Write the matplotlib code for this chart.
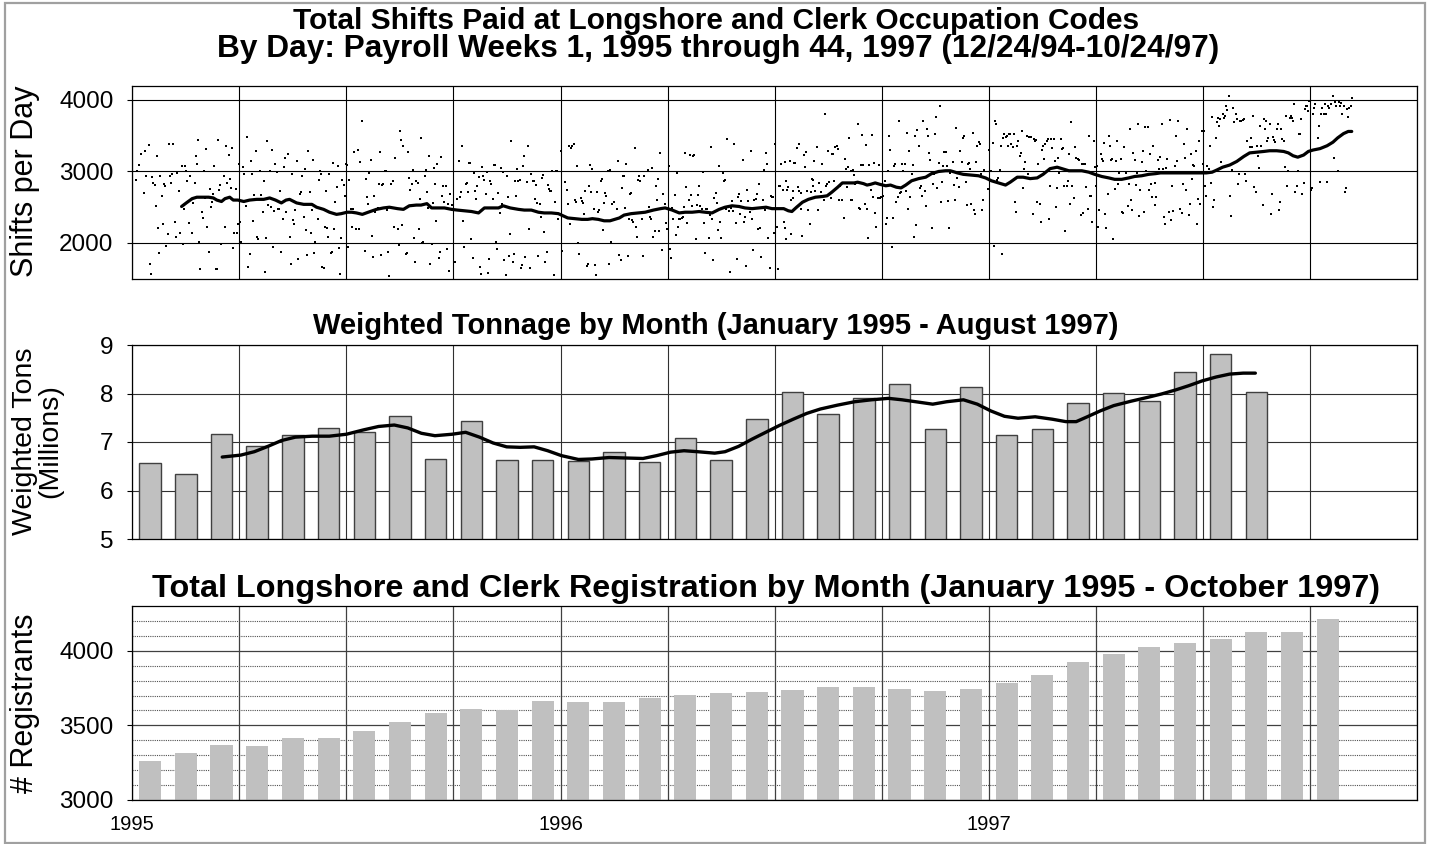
import numpy as np
import matplotlib
matplotlib.use("Agg")
import matplotlib.pyplot as plt
from matplotlib.patches import Rectangle

plt.rcParams['font.family'] = ['Liberation Sans', 'DejaVu Sans']

# ---- top panel: shifts paid per day, day 0 = 12/24/94 ----
shift_day = [
    # Q1 1995
    3, 4, 6, 7, 10, 11, 12, 14, 15, 16,
    17, 18, 19, 20, 21, 22, 23, 24, 25, 26,
    27, 28, 29, 30, 31, 32, 33, 34, 35, 36,
    37, 38, 40, 41, 42, 43, 44, 45, 46, 47,
    48, 49, 51, 52, 53, 54, 55, 56, 57, 58,
    59, 60, 61, 62, 63, 64, 65, 66, 67, 68,
    69, 70, 71, 72, 73, 74, 75, 76, 78, 79,
    80, 81, 82, 83, 84, 85, 86, 87, 88, 89,
    90, 91,
    # Q2 1995
    92, 93, 94, 95, 97, 98, 99, 100, 101, 102,
    103, 104, 105, 106, 107, 109, 110, 111, 112, 113,
    114, 115, 116, 117, 118, 119, 120, 121, 122, 123,
    124, 125, 126, 127, 128, 129, 130, 131, 133, 134,
    135, 136, 137, 138, 139, 140, 141, 143, 144, 145,
    146, 147, 148, 149, 150, 151, 152, 153, 154, 155,
    156, 158, 159, 160, 161, 162, 163, 164, 165, 166,
    167, 168, 169, 170, 171, 172, 173, 174, 175, 176,
    177, 178, 179, 180, 181, 182, 183,
    # Q3 1995
    184, 185, 186, 187, 188, 189, 191, 192, 193, 194,
    196, 198, 199, 200, 201, 202, 203, 204, 205, 206,
    207, 209, 210, 211, 212, 213, 214, 215, 216, 217,
    218, 219,
    220, 222, 223, 224, 226, 227, 228, 229, 230, 231,
    233, 234, 235, 236, 237, 238, 239, 240, 241, 242,
    243, 244, 245, 246, 247, 248, 249, 250, 251, 252,
    253, 254, 255, 256, 257, 258, 259, 260, 261, 262,
    263, 264, 265, 266, 267, 268, 269, 270, 271, 272,
    # Q4 1995
    275, 277, 278, 279, 280, 281, 282, 283, 284, 285,
    286, 287, 288, 289, 290, 291, 292, 293, 294, 295,
    296, 297, 298, 299, 300, 301, 302, 303, 304, 305,
    306, 307, 308, 309, 310, 311, 312, 313, 314, 315,
    316, 317, 318, 319, 320, 321, 322, 323, 324, 325,
    326, 327, 328, 329, 330, 331, 332, 333, 334, 335,
    336, 337, 338, 339, 340, 341, 342, 343, 344, 345,
    346, 347, 348, 349, 350, 351, 352, 353, 354, 355,
    356, 357, 358, 359, 360, 361, 362, 363,
    # Q1 1996
    365, 366, 369, 370, 371, 372, 373, 374, 375, 376,
    377, 378, 379, 380, 381, 382, 383, 384, 385, 386,
    387, 388, 389, 390, 391, 392, 393, 394, 395, 396,
    397, 398, 399, 400, 401, 402, 403, 404, 405, 406,
    407, 408, 409, 410, 413, 414, 415, 416, 417, 418,
    419, 420, 421, 422, 423, 424, 425, 426, 427, 428,
    429, 430, 431, 432, 433, 434, 435, 436,
    # Q2 1996
    439, 440, 441, 442, 443, 444, 445, 446, 447, 448,
    449, 450, 451, 452, 453, 454, 455, 456, 457, 458,
    459, 460, 461, 462, 463, 464, 465, 466, 467, 468,
    469, 470, 471, 472, 473, 474, 475, 476, 477, 478,
    479, 480, 481, 482, 483, 484, 485, 486, 487, 488,
    489, 490, 491, 492, 493, 494, 495, 496, 497, 498,
    499, 500, 501, 502, 503, 504, 505, 506, 507, 508,
    509, 510, 511, 512, 513, 514, 515, 516, 517, 518,
    519, 520, 521, 522, 523, 524, 525, 526, 527, 528,
    # Q3 1996
    529, 530, 531, 532, 533, 534, 535, 536, 537, 538,
    539, 540, 541, 542, 543, 544, 545, 546, 547, 548,
    549, 550, 551, 552, 553, 554, 555, 556, 556, 557,
    557, 558, 559, 560, 561, 561, 563, 563, 564, 565,
    566, 567, 568, 568, 570, 570, 571, 572, 573, 574,
    575,
    576, 577, 578, 579, 580, 580, 581, 582, 583, 584,
    585, 587, 588, 589, 590, 591, 592, 593, 594, 595,
    596, 597, 598, 599, 600, 601, 602, 603, 605, 606,
    607, 608, 609, 610, 611, 612, 612, 613, 614, 615,
    # Q4 1996
    616, 618, 619, 620, 621, 622, 623, 624, 625, 626,
    627, 628, 629, 630, 631, 632, 633, 634, 635, 636,
    637, 638, 640, 641, 642, 643, 644, 645, 646, 647,
    648, 649, 650, 651, 652, 653,
    654, 655, 656, 657, 658, 659, 660, 661, 662, 663,
    664, 665, 666, 667, 668, 669, 670, 671, 672, 673,
    674, 675, 676, 677, 678, 679, 680, 681, 682, 683,
    684, 685, 686, 687, 688, 689, 690, 691, 692, 693,
    694, 695, 696, 697, 699, 700, 701, 702, 703, 704,
    705, 707, 708, 709, 710, 711, 712, 713, 714, 715,
    716, 717, 718, 719, 720, 721, 722, 723, 724, 725,
    # Q1 1997
    726, 729, 730, 732, 733, 734, 735, 736, 737, 738,
    739, 740, 741, 742, 743, 744, 745, 746, 747, 748,
    749, 750, 751, 752, 753, 754, 755, 756, 757, 758,
    759, 760, 761, 762, 763, 764, 766, 767, 768, 769,
    770, 771, 772, 773, 774, 775, 776, 777, 778, 779,
    780, 781, 782, 783, 784, 785, 786, 787, 788, 789,
    790, 791, 792, 793, 794, 795, 796, 797, 798, 799,
    800, 801, 802, 803, 804, 806, 807, 808, 809, 810,
    811, 812, 813, 814, 815, 816, 817, 818, 819, 820,
    # Q2 1997
    821, 822, 823, 824, 825, 826, 827, 828, 829, 830,
    831, 832, 833, 834, 835, 836, 837, 838, 839, 840,
    841, 842, 843, 844, 845, 847, 848, 849, 850, 851,
    852, 853, 854, 855, 856, 857, 858, 859, 860, 861,
    862, 863, 864, 865, 866, 867, 868, 869, 870, 871,
    871, 872, 874, 875, 876, 877, 878, 879, 880, 881,
    882, 883, 884, 885, 886, 887, 888, 889, 890, 891,
    893, 894, 895, 896, 897, 898, 899, 900, 901, 902,
    903, 904, 905, 906, 907, 908, 909, 910, 911, 912,
    # Q3 1997
    913, 914, 915, 916, 917, 918, 919, 920, 921, 922,
    923, 924, 925, 926, 927, 928, 929, 930, 931, 932,
    933, 934, 935, 936, 937, 938, 939, 940, 941, 942,
    943, 944, 945, 946, 947, 948, 949, 950, 952, 953,
    954, 955, 956, 957, 958, 959, 960, 961, 962, 963,
    964, 965, 966, 967, 968, 969, 970, 971, 972, 973,
    974, 975, 976, 977, 978, 979, 980, 981, 982, 983,
    984, 985, 986, 987, 988, 989, 990, 991, 992, 993,
    994, 995, 996, 997, 998, 999, 1000, 1001, 1002, 1003,
    # Q4 1997
    1004, 1005, 1006, 1007, 1008, 1010, 1011, 1012, 1013, 1014,
    1015, 1016, 1017, 1018, 1019, 1020, 1021, 1023, 1024, 1025,
    1026, 1027, 1028, 1029, 1030, 1031, 1032, 1033, 1034, 1035,
    1036, 1037, 1038, 1039,
]
shift_count = [
    # Q1 1995
    2880, 3010, 3090, 3250, 2700, 3280, 2930, 3370, 1700, 1560,
    2920, 2840, 2810, 2520, 3210, 2210, 1860, 2930, 2650, 2270,
    2820, 2800, 1960, 2130, 3390, 2930, 2840, 2970, 3390, 2290,
    2080, 2980, 2730, 2140, 3070, 1990, 2470, 3080, 3010, 2860,
    2280, 2930, 2140, 2560, 2840, 3220, 3100, 3440, 2020, 1640,
    2430, 2350, 3000, 2630, 3310, 2230, 1870, 2760, 2500, 2570,
    2680, 3070, 1630, 1640, 3440, 2740, 2810, 1980, 2930, 2230,
    3350, 2840, 3230, 2900, 2770, 3330, 1930, 2140, 2760, 2140,
    2270, 3100,
    # Q2 1995
    2290, 2020, 3060, 2960, 2520, 3480, 1660, 1840, 3140, 2970,
    2310, 2670, 3290, 2080, 2050, 3000, 2670, 2440, 2870, 1600,
    2070, 3430, 2530, 3010, 2500, 3300, 1940, 2450, 3110, 2990,
    2480, 2470, 2730, 1880, 2340, 3060, 3190, 2440, 3250, 2090,
    1700, 2970, 2320, 2260, 2460, 3140, 1780, 2690, 2710, 2940,
    2370, 3040, 2180, 1830, 3280, 2710, 2140, 2460, 3160, 1860,
    2020, 2330, 2880, 3000, 2970, 1670, 1650, 2230, 2720, 2210,
    2080, 2960, 1860, 1880, 3120, 2190, 2580, 2780, 3080, 1930,
    1570, 2070, 2880, 2810, 2660, 3100, 3090,
    # Q3 1995
    1950, 2880, 2480, 2220, 2470, 3270, 2190, 3300, 2190, 3130,
    3710, 1890, 2900, 2640, 2550, 2980, 3160, 2100, 1800, 2660,
    2440, 2490, 2820, 3270, 1830, 2810, 2820, 3000, 3010, 2460,
    1880, 1540,
    2820, 2870, 2220, 3190, 2190, 1970, 3560, 3440, 2250, 3350,
    1850, 1860, 3270, 2910, 2740, 2820, 3020, 2070, 1740, 2870,
    2840, 2190, 2620, 3470, 2000, 2020, 2940, 3020, 2710, 2490,
    3210, 1710, 1980, 2560, 3050, 2820, 2310, 3110, 1790, 1880,
    3200, 2650, 2790, 2570, 2790, 1910, 2540, 1610, 2690, 2530,
    # Q4 1995
    1730, 2620, 3150, 2640, 2710, 3360, 2310, 1950, 2820, 2840,
    2710, 3120, 3120, 2060, 1790, 2980, 2730, 2620, 2800, 2920,
    1660, 1570, 3060, 2940, 2880, 2680, 2990, 1580, 1770, 2870,
    2820, 2620, 3090, 3090, 2020, 1910, 2700, 2420, 3050, 2540,
    2990, 1760, 1550, 2930, 2640, 1820, 2120, 3430, 1730, 1850,
    2860, 2650, 3040, 2870, 2880, 1650, 1690, 3070, 3220, 1810,
    2850, 3350, 2190, 1650, 2960, 2860, 2870, 2610, 2810, 2560,
    1820, 2550, 2370, 2910, 2950, 2150, 1740, 1880, 2810, 2760,
    2730, 2730, 3000, 1550, 2570, 3010, 3010, 2340,
    # Q1 1996
    3290, 1890, 2850, 2740, 2540, 3360, 2260, 3330, 3350, 3380,
    2600, 2570, 3080, 2000, 1840, 2630, 2590, 2560, 2410, 2730,
    1680, 1700, 2790, 3090, 2710, 3040, 2470, 1690, 1550, 2710,
    2440, 2460, 2870, 2890, 2180, 2560, 2700, 2660, 3010, 1700,
    3020, 2010, 2540, 2580, 2470, 3140, 1830, 1760, 2770, 2940,
    2940, 2490, 3110, 1820, 2330, 2680, 2700, 2320, 2290, 3330,
    2220, 2090, 2880, 2940, 2860, 2330, 1820, 2930,
    # Q2 1996
    3020, 2500, 2370, 2330, 3050, 2080, 2170, 2800, 2600, 2890,
    2170, 3260, 1900, 2680, 2490, 2540, 2280, 2190, 3070, 1910,
    1790, 2490, 2330, 2670, 2110, 2980, 2230, 2330, 2340, 2350,
    2370, 2510, 3260, 2780, 2280, 2600, 3230, 2670, 2520, 3220,
    3230, 2050, 2530, 2670, 2800, 2520, 2470, 2990, 2280, 1860,
    2470, 2470, 2070, 2390, 3340, 2330, 1760, 2630, 2700, 2560,
    2180, 3070, 2290, 2070, 2980, 2870, 2880, 2480, 3450, 2450,
    1600, 2490, 2590, 2450, 3390, 2280, 1780, 2640, 2690, 2400,
    2590, 3160, 2290, 2360, 1680, 2740, 2590, 2430, 3290, 2340,
    # Q3 1996
    1900, 2600, 2620, 2690, 2190, 2820, 2210, 1800, 2600, 3020,
    2460, 3260, 3110, 2070, 1650, 2660, 2640, 2640, 2140, 3390,
    2230, 1640, 2800, 2790, 3100, 2740, 2300, 3130, 2210, 2060,
    2870, 2740, 2780, 3140, 2600, 2120, 2730, 2630, 3120, 3120,
    3330, 2780, 3380, 2730, 2480, 2700, 2100, 3230, 3060, 3270,
    2720,
    2460, 2260, 2710, 2890, 2880, 2790, 3150, 2720, 3340, 2460,
    2840, 2710, 3110, 2600, 3800, 2790, 2830, 3290, 2850, 2630,
    3250, 3240, 2870, 3340, 3350, 3320, 2600, 2790, 2600, 2350,
    3180, 3040, 2780, 3060, 3470, 3000, 2600, 2600, 3020, 2950,
    # Q4 1996
    2820, 3670, 2490, 2480, 3090, 3510, 3090, 2540, 3370, 2470,
    2070, 3090, 2740, 3510, 2640, 3120, 2420, 2220, 2630, 3090,
    2630, 2640, 2650, 2860, 2260, 2350, 3000, 3490, 3300, 1940,
    2350, 3080, 3100, 2570, 2640, 3700,
    2700, 2710, 3100, 3010, 3100, 2730, 3540, 2480, 3290, 2640,
    2960, 3090, 2080, 3490, 2250, 3580, 3360, 2770, 2790, 2660,
    3710, 2730, 2520, 3590, 3490, 3260, 3160, 2210, 2820, 2970,
    3530, 3760, 2770, 3120, 3910, 2580, 2850, 3080, 3270, 3270,
    3080, 2590, 2210, 2980, 3130, 2810, 2600, 3610, 2910, 2780,
    3290, 3130, 3470, 3490, 2850, 2530, 3110, 3120, 3030, 2540,
    3540, 2460, 2400, 3130, 3350, 3410, 3390, 2970, 2460, 2600,
    # Q1 1997
    3020, 2760, 3300, 3000, 3400, 1960, 3700, 3670, 2880, 2910,
    3020, 3350, 1850, 3470, 3530, 3480, 3500, 3350, 3520, 3520,
    3390, 3340, 3520, 2570, 2440, 3350, 3420, 3210, 3260, 3560,
    2770, 3040, 3130, 3490, 2960, 3480, 3480, 2410, 3460, 3430,
    3440, 2570, 3100, 2550, 2300, 3300, 3360, 3180, 3390, 3430,
    3450, 2340, 2800, 3450, 3330, 3460, 3150, 2500, 2770, 3190,
    2980, 3450, 3320, 3330, 2790, 2170, 2800, 2860, 3240, 2540,
    3690, 2790, 2630, 3340, 3190, 3180, 3160, 2390, 3110, 2420,
    3110, 3110, 2780, 2480, 3490, 2650, 2650, 2290, 3420, 3060,
    # Q2 1997
    2800, 3070, 2220, 2460, 3250, 3180, 3140, 3400, 2410, 2210,
    2680, 3500, 3360, 3160, 3170, 2060, 2750, 3150, 3420, 2820,
    2980, 3170, 2430, 2420, 3340, 2980, 2520, 2820, 3600, 2600,
    2460, 3260, 3160, 2810, 2980, 3670, 2380, 2740, 3130, 3290,
    2430, 3620, 3000, 3620, 2740, 3250, 2830, 2640, 3360, 2840,
    2530, 2640, 3160, 3040, 3200, 3660, 3040, 2360, 2270, 3050,
    3180, 2430, 3720, 2320, 2800, 2450, 3080, 3500, 3140, 3700,
    2470, 2420, 2820, 3380, 3190, 2740, 3600, 2390, 2540, 3250,
    2890, 3090, 3080, 3290, 2260, 2620, 3420, 2540, 3570, 3110,
    # Q3 1997
    3560, 2790, 2650, 3070, 3030, 3360, 2840, 3760, 2500, 2600,
    3470, 3690, 3750, 3640, 3740, 3130, 3800, 3750, 3780, 3910,
    3860, 4050, 2650, 2380, 3020, 3890, 3690, 3810, 3740, 2830,
    2970, 3710, 3700, 3720, 3740, 2970, 2870, 3420, 3340, 3470,
    3340, 3770, 2780, 2710, 3350, 3220, 3050, 3630, 3360, 2530,
    3730, 3600, 3700, 3430, 3470, 3670, 2410, 2690, 3480, 3440,
    3410, 3590, 3670, 2460, 2570, 3600, 3460, 3420, 3060, 3770,
    2800, 3000, 3750, 3770, 3750, 3700, 3950, 2710, 2800, 3000,
    3530, 3530, 3740, 2690, 2840, 3870, 3910, 3920, 3850, 3990,
    # Q4 1997
    2740, 2770, 3800, 3890, 3940, 3470, 3630, 2850, 3810, 3890,
    3810, 3940, 3810, 2850, 3920, 3890, 3950, 4050, 3190, 3970,
    3910, 3000, 3970, 3920, 3960, 3810, 3920, 2710, 2770, 3870,
    3760, 3890, 3910, 4030,
]

# smoothed trend of daily shifts
trend_day = [
    42, 46, 51, 55, 59, 65, 69, 72, 76, 79, 83, 86, 90, 95, 100, 106,
    112, 117, 122, 127, 131, 134, 140, 146, 153, 157, 163, 168, 174, 178,
    183, 187, 191, 196, 201, 208, 214, 219, 226, 231, 236, 242, 246, 251,
    255, 260, 266, 272, 277, 283, 289, 295, 300, 306, 312, 316, 322, 329,
    334, 340, 346, 351, 357, 363, 367, 371, 377, 383, 388, 392, 397, 402,
    407, 411, 415, 419, 425, 431, 437, 444, 450, 454, 460, 466, 471, 477,
    483, 488, 494, 500, 505, 511, 517, 522, 528, 534, 540, 545, 551, 555,
    559, 562, 566, 571, 576, 582, 588, 592, 596, 601, 605, 611, 615, 618,
    623, 626, 629, 633, 637, 642, 646, 651, 655, 659, 664, 670, 676, 681,
    687, 693, 697, 703, 708, 715, 721, 727, 732, 738, 744, 748, 754, 759,
    765, 771, 776, 782, 788, 792, 798, 803, 809, 815, 820, 826, 832, 837,
    843, 849, 854, 860, 866, 872, 876, 881, 887, 893, 898, 904, 910, 915,
    920, 924, 929, 935, 941, 947, 952, 958, 964, 969, 975, 981, 985, 989,
    993, 998, 1002, 1006, 1012, 1018, 1023, 1027, 1032, 1036, 1039,
]
trend_shifts = [
    2510, 2560, 2620, 2640, 2640, 2640, 2630, 2600, 2580, 2620, 2640, 2600,
    2600, 2580, 2600, 2610, 2610, 2630, 2600, 2560, 2600, 2610, 2560, 2540,
    2540, 2500, 2470, 2430, 2400, 2410, 2430, 2430, 2420, 2400, 2430, 2470,
    2490, 2500, 2480, 2470, 2520, 2530, 2530, 2550, 2490, 2490, 2490, 2470,
    2460, 2450, 2440, 2420, 2490, 2490, 2490, 2520, 2490, 2470, 2460, 2460,
    2430, 2420, 2420, 2410, 2380, 2350, 2340, 2330, 2330, 2340, 2330, 2310,
    2310, 2330, 2350, 2390, 2410, 2420, 2430, 2460, 2480, 2490, 2460, 2420,
    2430, 2430, 2440, 2430, 2420, 2470, 2500, 2520, 2510, 2490, 2480, 2490,
    2500, 2480, 2480, 2480, 2450, 2440, 2500, 2570, 2610, 2640, 2650, 2660,
    2710, 2780, 2840, 2840, 2840, 2850, 2830, 2810, 2820, 2840, 2820, 2800,
    2810, 2780, 2770, 2810, 2870, 2900, 2920, 2970, 3000, 3010, 3010, 2980,
    2960, 2950, 2940, 2910, 2870, 2840, 2810, 2850, 2920, 2920, 2900, 2910,
    2960, 3040, 3060, 3040, 3010, 3010, 3010, 2990, 2960, 2930, 2910, 2890,
    2890, 2910, 2930, 2940, 2960, 2970, 2980, 2980, 2980, 2980, 2980, 2980,
    2980, 2980, 2990, 3020, 3060, 3090, 3140, 3210, 3260, 3270, 3280, 3290,
    3290, 3280, 3260, 3220, 3200, 3230, 3280, 3300, 3320, 3360, 3410, 3470,
    3530, 3560, 3560,
]

# ---- middle panel: weighted tonnage by month (millions), Jan 1995 - Aug 1997 ----
tonnage = [
    6.57, 6.33, 7.16, 6.92, 7.15, 7.28, 7.21, 7.54, 6.65, 7.43, 6.62, 6.62,
    6.61, 6.79, 6.59, 7.08, 6.63, 7.47, 8.04, 7.57, 7.91, 8.19, 7.26, 8.14,
    7.14, 7.26, 7.81, 8.02, 7.84, 8.45, 8.81, 8.03,
]
# smoothed tonnage curve (month position from Jan 1995, value)
tonnage_trend_month = [
    2.52, 3.04, 3.42, 3.80, 4.18, 4.57, 5.04, 5.52, 6.00, 6.48, 6.90, 7.34,
    7.72, 8.10, 8.48, 8.96, 9.34, 9.73, 10.11, 10.49, 10.87, 11.26, 11.64,
    12.02, 12.50, 12.88, 13.36, 13.84, 14.31, 14.70, 15.08, 15.46, 15.84,
    16.32, 16.61, 16.99, 17.37, 17.75, 18.13, 18.52, 18.90, 19.28, 19.76,
    20.24, 20.71, 21.19, 21.57, 22.05, 22.43, 22.82, 23.29, 23.68, 24.06,
    24.44, 24.82, 25.30, 25.78, 26.16, 26.45, 26.73, 27.12, 27.50, 27.98,
    28.45, 28.84, 29.22, 29.60, 29.98, 30.37, 30.75, 31.13, 31.47,
]
tonnage_trend = [
    6.69, 6.73, 6.80, 6.91, 7.03, 7.10, 7.12, 7.12, 7.16, 7.25, 7.32, 7.35,
    7.29, 7.18, 7.13, 7.16, 7.20, 7.10, 6.98, 6.90, 6.89, 6.90, 6.82,
    6.72, 6.64, 6.65, 6.68, 6.67, 6.66, 6.72, 6.79, 6.82, 6.80,
    6.77, 6.80, 6.91, 7.06, 7.20, 7.34, 7.47, 7.59, 7.68, 7.76,
    7.83, 7.87, 7.90, 7.87, 7.82, 7.78, 7.83, 7.87, 7.78, 7.64,
    7.53, 7.49, 7.52, 7.47, 7.42, 7.42, 7.51, 7.64, 7.75, 7.84,
    7.92, 7.99, 8.07, 8.16, 8.26, 8.34, 8.40, 8.42, 8.42,
]

# ---- bottom panel: registrants by month, Jan 1995 - Oct 1997 ----
registrants = [
    3263, 3315, 3371, 3364, 3418, 3413, 3465, 3526, 3580, 3607, 3602, 3663,
    3654, 3654, 3681, 3701, 3715, 3726, 3739, 3755, 3755, 3741, 3730, 3746,
    3782, 3838, 3928, 3977, 4022, 4052, 4079, 4128, 4128, 4213,
]

year_labels = ['1995', '1996', '1997']

W, H = 1430, 844
fig = plt.figure(figsize=(W / 100, H / 100), dpi=100)
fig.patch.set_facecolor('white')

left = 132.3 / W
width = (1417 - 132.3) / W


def panel(top_px, bottom_px):
    return fig.add_axes([left, 1 - bottom_px / H, width, (bottom_px - top_px) / H])


ax1 = panel(85.7, 278.7)
ax2 = panel(345, 539)
ax3 = panel(606, 800)

bar_grey = '#c0c0c0'
tick_kw = dict(axis='y', direction='out', length=3.5, width=0.8, labelsize=17.5, pad=10)

for ax in (ax1, ax2, ax3):
    ax.set_axisbelow(True)
    for s in ax.spines.values():
        s.set_color('black')
        s.set_linewidth(0.9)
    ax.tick_params(**tick_kw)
    ax.tick_params(axis='x', length=0, labelbottom=False)

# top panel
n_axis_days = 1094.6
ax1.set_xlim(0, n_axis_days)
ax1.set_ylim(1500, 4200)
ax1.set_yticks([2000, 3000, 4000])
ax1.set_xticks(np.linspace(0, n_axis_days, 13))
ax1.grid(True, color='black', lw=0.8)
ax1.plot(shift_day, shift_count, ls='none', marker='s', ms=1.6, mew=0, color='black', zorder=3)
ax1.plot(trend_day, trend_shifts, color='black', lw=2.3, zorder=4,
         solid_joinstyle='round', solid_capstyle='round')

# middle panel
months = np.arange(len(tonnage)) + 0.5
ax2.bar(months, tonnage, width=0.6, color=bar_grey, edgecolor='#404040', linewidth=1.0, zorder=2)
ax2.plot(tonnage_trend_month, tonnage_trend, color='black', lw=2.4, zorder=3,
         solid_joinstyle='round', solid_capstyle='round')
ax2.set_xlim(0, 36)
ax2.set_ylim(5, 9)
ax2.set_yticks([5, 6, 7, 8, 9])
ax2.set_xticks(np.arange(0, 37, 3))
ax2.grid(True, color='#303030', lw=0.8)

# bottom panel
reg_months = np.arange(len(registrants)) + 0.5
ax3.bar(reg_months, registrants, width=0.62, color=bar_grey, zorder=2)
ax3.set_xlim(0, 36)
ax3.set_ylim(3000, 4300)
ax3.set_yticks([3000, 3500, 4000])
ax3.set_yticks(np.arange(3100, 4300, 100), minor=True)
ax3.tick_params(axis='y', which='minor', length=0)
ax3.set_xticks(np.arange(0, 37, 3))
xlabels = ['' for _ in range(13)]
for i, lab in enumerate(year_labels):
    xlabels[4 * i] = lab
ax3.set_xticklabels(xlabels)
ax3.tick_params(axis='x', labelbottom=True, labelsize=14.5, pad=11)
ax3.grid(True, which='major', color='#404040', lw=0.9)
ax3.grid(True, which='minor', axis='y', color='#505050', lw=0.8, ls=(0, (1, 1)))

# titles
title_kw = dict(ha='center', va='center', fontweight='bold')
fig.text(716 / W, 1 - 21 / H, 'Total Shifts Paid at Longshore and Clerk Occupation Codes',
         fontsize=21.5, **title_kw)
fig.text(718 / W, 1 - 49 / H, 'By Day: Payroll Weeks 1, 1995 through 44, 1997 (12/24/94-10/24/97)',
         fontsize=22.8, **title_kw)
fig.text(716 / W, 1 - 326 / H, 'Weighted Tonnage by Month (January 1995 - August 1997)',
         fontsize=21, **title_kw)
fig.text(766 / W, 1 - 589 / H, 'Total Longshore and Clerk Registration by Month (January 1995 - October 1997)',
         fontsize=23.3, **title_kw)

# y labels
ylab_kw = dict(ha='center', va='center', rotation=90, linespacing=0.95)
fig.text(25 / W, 1 - 181 / H, 'Shifts per Day', fontsize=22, **ylab_kw)
fig.text(38 / W, 1 - 441 / H, 'Weighted Tons\n(Millions)', fontsize=20.5, **ylab_kw)
fig.text(25 / W, 1 - 703 / H, '# Registrants', fontsize=22, **ylab_kw)

# outer frame
fig.patches.append(Rectangle((4.5 / W, 1.5 / H), 1420 / W, 840 / H, transform=fig.transFigure,
                             fill=False, edgecolor='#a0a0a0', lw=1.6))

fig.savefig('out.png', dpi=100)
